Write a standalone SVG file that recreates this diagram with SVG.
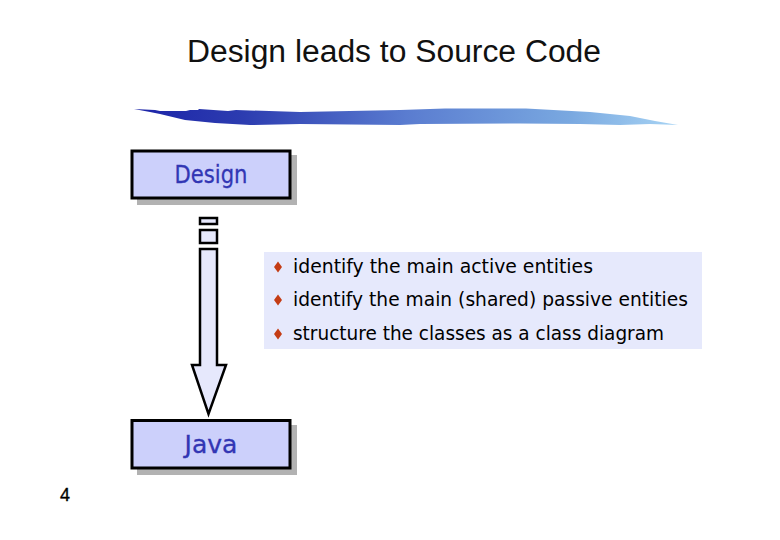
<svg xmlns="http://www.w3.org/2000/svg" width="780" height="540" viewBox="0 0 780 540">
<style>
.title{font:31px "Liberation Sans",Arial,sans-serif;fill:#111}
.box{fill:#ccd0fb;stroke:#000;stroke-width:3}
.shadow{fill:#b2b2b2}
.label{font:24px "DejaVu Sans",sans-serif;fill:#3236b4;text-anchor:middle;stroke:#3236b4;stroke-width:.3}
.item{font:19px "DejaVu Sans",sans-serif;fill:#000}
.bullet{fill:#c43c14}
.arrow{fill:#e6e8fc;stroke:#000;stroke-width:2.5}
.page{font:18px "Liberation Sans",Arial,sans-serif;fill:#000;stroke:#000;stroke-width:.3}
</style>
<defs>
<linearGradient id="brush" x1="0" x2="1" y1="0" y2="0">
<stop offset="0" stop-color="#1c24a8"/>
<stop offset="0.2" stop-color="#2c3cb0"/>
<stop offset="0.5" stop-color="#5a7cd0"/>
<stop offset="0.8" stop-color="#79a8e0"/>
<stop offset="1" stop-color="#a8d4f4"/>
</linearGradient>
</defs>
<rect width="780" height="540" fill="#fff"/>
<text class="title" x="394" y="62" text-anchor="middle" textLength="414" lengthAdjust="spacingAndGlyphs">Design leads to Source Code</text>
<path d="M134 109 L155 110 L160 111 L186 111 L190 110 L198 110 L199 109 L228 111 L236 110 L300 112 L400 110 L445 108.500 L526 108.500 L590 112 L630 116 L655 121 L678 125 L650 124 L620 125 L580 124 L520 123.500 L420 124 L400 125 L300 124 L250 125 L215 123 L185 120 L160 114 L150 112 Z" fill="url(#brush)"/>
<g id="panel">
<rect x="264" y="252" width="438" height="97" fill="#e6e9fc"/>
<path class="bullet" d="M278 261.500 L282 267 L278 272.500 L274 267 Z"/>
<text class="item" x="293" y="273" textLength="300" lengthAdjust="spacingAndGlyphs">identify the main active entities</text>
<path class="bullet" d="M278 294.500 L282 300 L278 305.500 L274 300 Z"/>
<text class="item" x="293" y="306" textLength="395" lengthAdjust="spacingAndGlyphs">identify the main (shared) passive entities</text>
<path class="bullet" d="M278 328.500 L282 334 L278 339.500 L274 334 Z"/>
<text class="item" x="293" y="340" textLength="371" lengthAdjust="spacingAndGlyphs">structure the classes as a class diagram</text>
</g>
<g id="connectors">
<rect class="arrow" x="200" y="218" width="17" height="6"/>
<rect class="arrow" x="200" y="230" width="17" height="13"/>
<path class="arrow" d="M200 249 H217 V365 H226 L208.500 414 L192 365 H200 Z"/>
</g>
<g id="design">
<rect class="shadow" x="137" y="155" width="160" height="50"/>
<rect class="box" x="132" y="151" width="158" height="47"/>
<text class="label" x="211" y="183" textLength="73" lengthAdjust="spacingAndGlyphs">Design</text>
</g>
<g id="java">
<rect class="shadow" x="137" y="425" width="160" height="50"/>
<rect class="box" x="132" y="420.500" width="158" height="47.500"/>
<text class="label" x="211" y="453" textLength="53" lengthAdjust="spacingAndGlyphs">Java</text>
</g>
<text class="page" x="65" y="501" text-anchor="middle">4</text>
</svg>
